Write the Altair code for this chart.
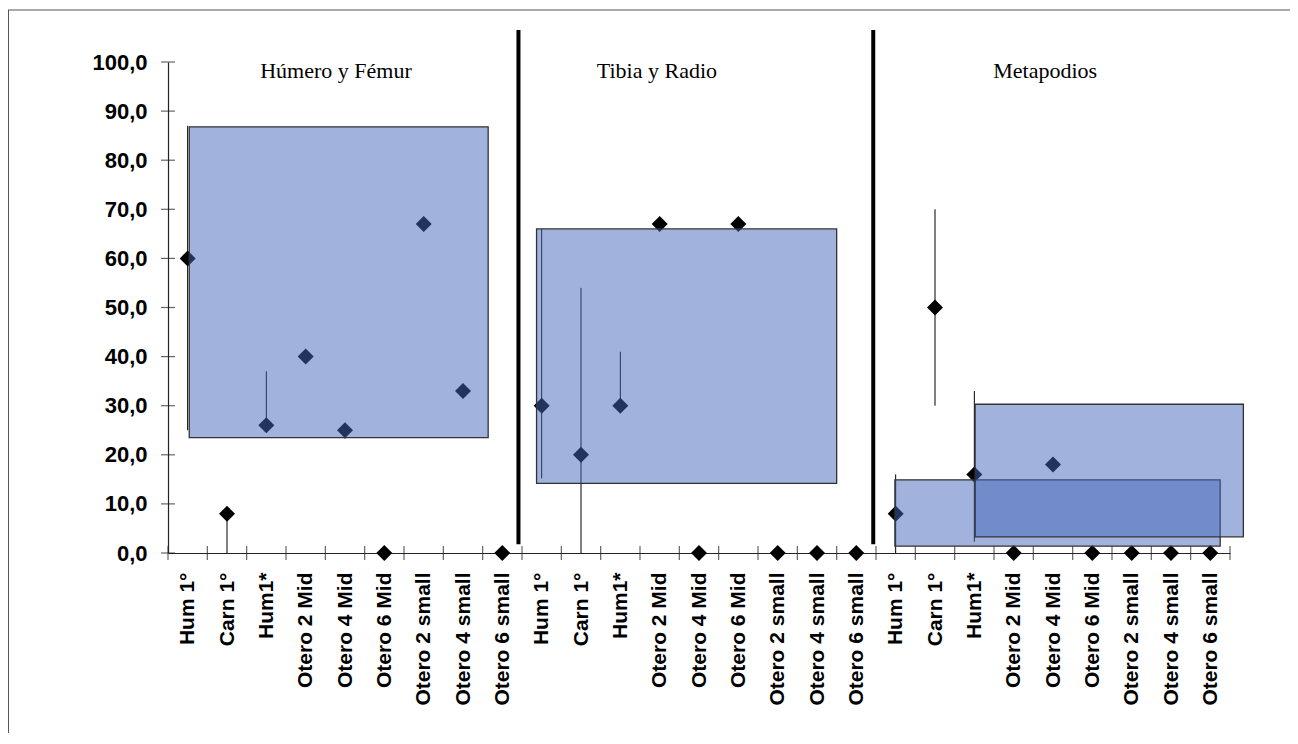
import json
import altair as alt
import pandas as pd

# ---------------- data ----------------
categories = ["Hum 1°", "Carn 1°", "Hum1*", "Otero 2 Mid", "Otero 4 Mid",
              "Otero 6 Mid", "Otero 2 small", "Otero 4 small", "Otero 6 small"]
groups = ["Húmero y Fémur", "Tibia y Radio", "Metapodios"]

values_humero = [60, 8, 26, 40, 25, 0, 67, 33, 0]
values_tibia = [30, 20, 30, 67, 0, 67, 0, 0, 0]
values_meta = [8, 50, 16, 0, 18, 0, 0, 0, 0]

# error bars: group index, category index, low, high
err_group = [0, 0, 0, 0, 1, 1, 1, 2, 2, 2]
err_cat = [0, 1, 2, 4, 0, 1, 2, 0, 1, 2]
err_low = [25, 0, 26, 23.3, 15.2, 0, 30, 0, 30, 2.3]
err_high = [87, 8, 37, 25, 66, 54, 41, 16, 70, 33]

# shaded boxes (x in category-index units, y in %)
box_x1 = [0.54, 9.37, 18.48, 20.52]
box_x2 = [8.14, 17.0, 26.75, 27.34]
box_y1 = [23.5, 14.2, 1.4, 3.3]
box_y2 = [86.8, 66.0, 14.9, 30.3]

# group separators and titles
sep_x = [8.91, 17.93]
sep_y1 = [1.8, 1.8]
sep_y2 = [106.5, 106.5]
title_x = [4.27, 12.43, 22.30]
title_y = [96.8, 96.8, 96.8]

y_ticks = [0, 10, 20, 30, 40, 50, 60, 70, 80, 90, 100]

# ---------------- tables ----------------
all_labels = categories * len(groups)
n = len(all_labels)
all_values = values_humero + values_tibia + values_meta
pts = pd.DataFrame({"pos": [i + 0.5 for i in range(n)], "val": all_values,
                    "label": all_labels})
errs = pd.DataFrame({"pos": [g * 9 + c + 0.5 for g, c in zip(err_group, err_cat)],
                     "val": err_low, "high": err_high})
boxes = pd.DataFrame({"pos": box_x1, "x2": box_x2, "val": box_y1, "y2": box_y2})
seps = pd.DataFrame({"pos": sep_x, "val": sep_y1, "y2": sep_y2})
titles = pd.DataFrame({"pos": title_x, "val": title_y, "t": groups})
xt = pd.DataFrame({"pos": list(range(n + 1)), "val": [0] * (n + 1)})
yt = pd.DataFrame({"pos": [0] * len(y_ticks), "val": y_ticks})
one = pd.DataFrame({"a": [0]})

W, H = 1062, 491
xs = alt.Scale(domain=[0, n], nice=False, zero=False)
ys = alt.Scale(domain=[0, 100], nice=False, zero=False)

label_js = json.dumps(all_labels, ensure_ascii=False)
FONT = "Liberation Sans"
AX = "#222"

x_axis = alt.Axis(values=[i + 0.5 for i in range(n)], title=None, ticks=False,
                  tickSize=0, labelAngle=-90, labelPadding=19,
                  labelExpr=f"{label_js}[floor(datum.value)]",
                  labelFont=FONT, labelFontSize=21, labelFontWeight="bold",
                  labelColor="#000", domainColor=AX, domainWidth=1.2, grid=False,
                  labelOverlap=False, labelBound=False, labelFlush=False)
y_axis = alt.Axis(values=y_ticks, title=None, ticks=False, tickSize=0,
                  labelPadding=21,
                  labelExpr="replace(format(datum.value, '.1f'), '.', ',')",
                  labelFont=FONT, labelFontSize=22, labelFontWeight="bold",
                  labelColor="#000", domainColor=AX, domainWidth=1.2, grid=False,
                  labelOverlap=False)

X = alt.X("pos:Q", scale=xs, axis=x_axis)
Y = alt.Y("val:Q", scale=ys, axis=y_axis)

errbars = alt.Chart(errs).mark_rule(color="#000", strokeWidth=1).encode(
    x=X, y=Y, y2="high:Q")

points = alt.Chart(pts).mark_point(shape="diamond", filled=True, color="#000",
                                   size=256, opacity=1).encode(x=X, y=Y)

rects = alt.Chart(boxes).mark_rect(fill="#4365b9", fillOpacity=0.5,
                                   stroke="#333", strokeWidth=1.3).encode(
    x=X, x2="x2:Q", y=Y, y2="y2:Q")

separators = alt.Chart(seps).mark_rule(color="#000", strokeWidth=4).encode(
    x=X, y=Y, y2="y2:Q")

group_titles = alt.Chart(titles).mark_text(font="Liberation Serif", fontSize=22,
                                           color="#000", align="center",
                                           baseline="alphabetic").encode(
    x=X, y=Y, text="t:N")

x_ticks = alt.Chart(xt).mark_tick(orient="vertical", size=14, thickness=1.2,
                                  color=AX).encode(x=X, y=Y)
y_tick_marks = alt.Chart(yt).mark_tick(orient="horizontal", size=14, thickness=1.2,
                                       color=AX).encode(x=X, y=Y)

frame_top = alt.Chart(one).mark_rule(color="#555", strokeWidth=1).encode(
    x=alt.value(-160), x2=alt.value(1122), y=alt.value(-52))
frame_left = alt.Chart(one).mark_rule(color="#555", strokeWidth=1).encode(
    x=alt.value(-159.5), y=alt.value(-52), y2=alt.value(671))

chart = alt.layer(
    errbars, x_ticks, y_tick_marks, points, rects, separators, group_titles,
    frame_top, frame_left,
).properties(
    width=W, height=H,
    background="white",
    autosize=alt.AutoSizeParams(type="none"),
    padding={"left": 160, "top": 54, "right": 60, "bottom": 180},
).configure_view(stroke=None)

chart.save("out.html", embed_options={"renderer": "svg", "actions": False})
